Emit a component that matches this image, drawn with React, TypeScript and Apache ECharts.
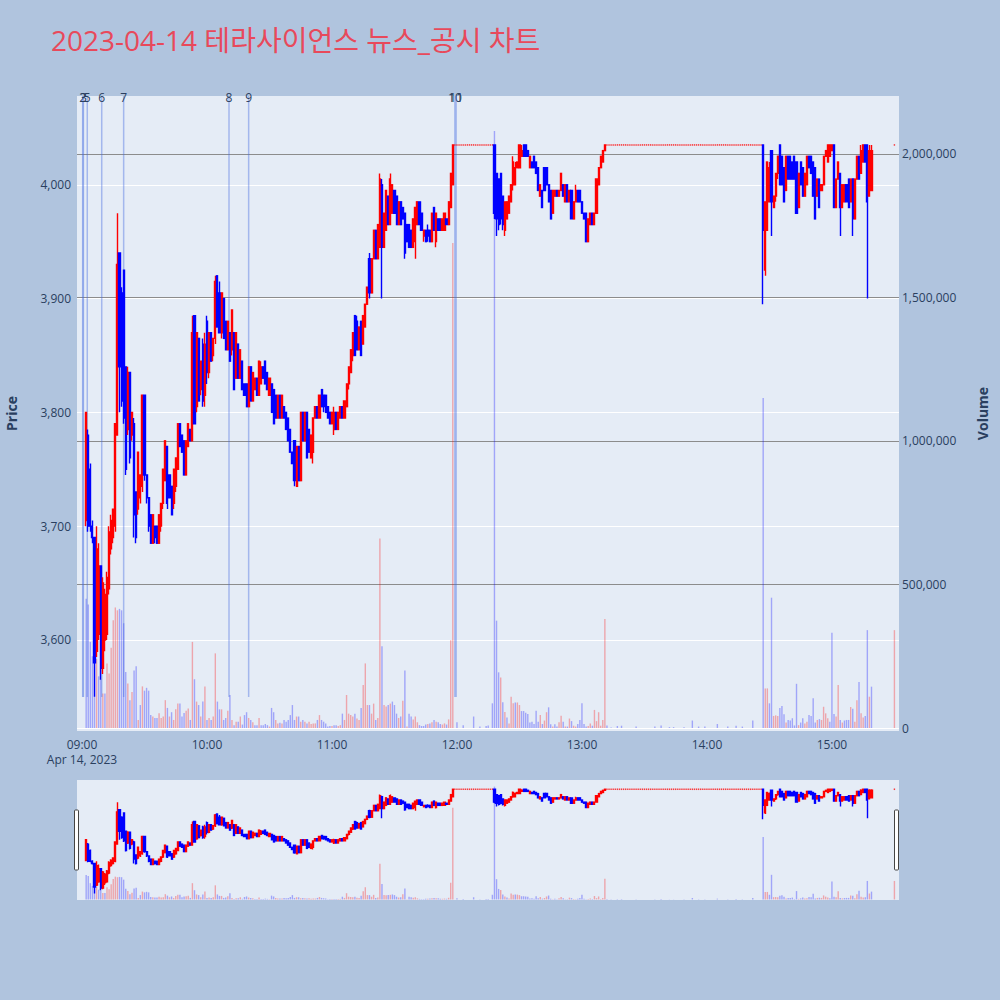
import React, { useEffect, useRef } from 'react';
import * as echarts from 'echarts';

// ---- Labels ----
const chartTitle = '2023-04-14 테라사이언스 뉴스_공시 차트';
const tradeDateLabel = 'Apr 14, 2023';
const timeTicks = ['09:00', '10:00', '11:00', '12:00', '13:00', '14:00', '15:00'];
const priceTicks = [3600, 3700, 3800, 3900, 4000];
const volumeTicks = [0, 500000, 1000000, 1500000, 2000000];

// ---- Minute bars, rows are [open, high, low, close] ----
const morningStart = '09:02';
const morningOhlc = [
  [3705,3800,3700,3800],[3780,3785,3695,3700],[3750,3755,3695,3700],[3700,3705,3685,3690],[3690,3690,3550,3580],[3590,3700,3585,3680],[3605,3685,3600,3665],[3665,3665,3565,3575],[3575,3655,3570,3650],[3600,3645,3590,3640],
  [3605,3660,3600,3655],[3645,3700,3640,3695],[3680,3710,3675,3705],[3690,3715,3685,3715],[3700,3790,3695,3790],[3780,3975,3780,3930],[3940,3940,3800,3840],[3905,3910,3805,3810],[3925,3925,3790,3795],[3840,3840,3745,3750],
  [3785,3840,3780,3835],[3835,3835,3755,3760],[3780,3800,3775,3800],[3790,3795,3690,3710],[3730,3730,3685,3690],[3715,3765,3710,3765],[3725,3745,3720,3745],[3735,3815,3730,3815],[3815,3815,3740,3745],[3745,3745,3720,3725],
  [3725,3725,3695,3700],[3710,3710,3685,3685],[3685,3710,3685,3710],[3700,3700,3685,3690],[3700,3700,3685,3685],[3685,3710,3685,3710],[3700,3720,3695,3720],[3720,3750,3715,3750],[3740,3775,3740,3775],[3770,3770,3715,3720],
  [3745,3745,3725,3725],[3735,3735,3710,3710],[3720,3750,3715,3750],[3735,3760,3730,3760],[3750,3790,3750,3790],[3790,3790,3770,3770],[3780,3780,3765,3765],[3775,3775,3745,3745],[3745,3775,3745,3775],[3770,3790,3770,3790],
  [3785,3785,3775,3775],[3775,3885,3775,3870],[3885,3885,3790,3790],[3805,3870,3800,3870],[3865,3865,3810,3810],[3820,3845,3815,3845],[3860,3865,3805,3810],[3815,3870,3805,3860],[3880,3885,3825,3835],[3835,3870,3830,3870],
  [3870,3870,3845,3845],[3850,3865,3845,3865],[3865,3920,3860,3915],[3920,3920,3875,3875],[3905,3915,3870,3870],[3870,3905,3865,3905],[3900,3900,3865,3865],[3880,3880,3855,3855],[3855,3880,3855,3880],[3870,3870,3845,3845],
  [3855,3890,3850,3890],[3870,3870,3820,3820],[3830,3870,3830,3870],[3860,3860,3830,3830],[3830,3855,3830,3855],[3845,3845,3820,3820],[3825,3825,3815,3815],[3825,3825,3805,3805],[3805,3840,3805,3840],[3840,3840,3810,3810],
  [3810,3835,3810,3835],[3820,3830,3820,3830],[3830,3830,3815,3815],[3815,3845,3815,3845],[3825,3845,3825,3840],[3840,3840,3830,3830],[3845,3845,3825,3825],[3835,3835,3820,3820],[3815,3830,3815,3830],[3825,3825,3800,3800],
  [3820,3820,3790,3790],[3815,3815,3795,3795],[3795,3815,3795,3815],[3815,3815,3795,3795],[3795,3815,3795,3815],[3805,3805,3795,3795],[3800,3800,3785,3785],[3795,3795,3775,3775],[3785,3785,3765,3765],[3765,3765,3755,3755],
  [3775,3775,3735,3740],[3735,3770,3735,3770],[3770,3770,3740,3740],[3740,3800,3740,3800],[3800,3800,3775,3775],[3775,3800,3775,3800],[3800,3800,3760,3760],[3785,3785,3765,3765],[3760,3780,3760,3780],[3765,3795,3755,3795],
  [3795,3805,3795,3805],[3805,3805,3795,3795],[3795,3815,3795,3815],[3820,3820,3805,3805],[3815,3815,3800,3805],[3815,3815,3800,3800],[3805,3805,3795,3795],[3800,3800,3790,3790],[3790,3800,3790,3800],[3785,3805,3780,3800],
  [3800,3800,3785,3785],[3785,3800,3785,3800],[3795,3805,3795,3805],[3805,3805,3795,3795],[3795,3810,3795,3810],[3805,3825,3805,3825],[3825,3840,3820,3840],[3835,3855,3835,3855],[3850,3870,3845,3870],[3885,3885,3850,3850],
  [3880,3885,3855,3855],[3855,3875,3855,3875],[3880,3880,3850,3850],[3860,3885,3860,3885],[3875,3895,3875,3895],[3895,3910,3895,3910],[3935,3940,3900,3905],[3905,3935,3905,3935],[3935,3960,3935,3960],[3960,3960,3935,3935],
  [3935,3965,3935,3965],[3945,4010,3945,4005],[4000,4005,3900,3945],[3945,3975,3945,3975],[3960,3995,3960,3995],[3990,3990,3965,3965],[3965,4010,3965,4005],[3975,4000,3975,4000],[3995,3995,3975,3975],[3990,3990,3965,3965],
  [3965,3985,3965,3985],[3985,3985,3965,3965],[3980,3980,3970,3970],[3975,3975,3935,3940],[3965,3965,3950,3950],[3965,3965,3945,3945],[3960,3960,3945,3945],[3945,3970,3945,3970],[3950,3980,3935,3980],[3965,3985,3965,3985],
  [3985,3985,3965,3965],[3975,3975,3960,3960],[3955,3960,3950,3960],[3960,3960,3950,3950],[3960,3965,3950,3955],[3960,3960,3950,3950],[3950,3975,3950,3975],[3980,3980,3960,3960],[3950,3975,3945,3975],[3970,3970,3960,3960],
  [3970,3970,3960,3960],[3960,3970,3960,3970],[3960,3975,3960,3975],[3970,3970,3965,3965],[3965,3985,3965,3985],[3980,4010,3980,4010],[4000,4035,4000,4035],
];
const morningVolume = [
  450000,430000,300000,250000,350000,240000,180000,170000,120000,120000,
  225000,190000,280000,375000,420000,410000,415000,410000,365000,195000,
  155000,97000,125000,200000,215000,28000,80000,145000,130000,140000,
  130000,45000,40000,35000,35000,51000,35000,40000,97000,70000,
  40000,55000,28000,65000,85000,85000,40000,52000,60000,68000,
  28000,300000,170000,92000,80000,40000,92000,145000,28000,35000,
  28000,40000,260000,92000,65000,65000,28000,35000,60000,115000,
  28000,10000,22000,22000,40000,12000,45000,55000,35000,28000,
  20000,10000,10000,35000,10000,10000,14000,10000,5000,70000,
  55000,28000,16000,18000,16000,28000,22000,28000,45000,80000,
  28000,40000,40000,22000,28000,22000,16000,22000,14000,16000,
  16000,28000,45000,28000,22000,16000,5000,7000,7000,10000,
  10000,7000,10000,50000,28000,115000,50000,45000,40000,50000,
  33000,28000,70000,150000,225000,80000,80000,50000,85000,28000,
  35000,660000,285000,80000,75000,80000,85000,92000,80000,50000,
  35000,40000,95000,200000,5000,50000,40000,30000,40000,20000,
  10000,7000,7000,12000,14000,16000,20000,28000,22000,20000,
  14000,12000,16000,12000,30000,306000,1690000,
];

// price held at 4,035 from 11:59 to 12:17
const noonFlatStart = '11:59';
const noonFlatPrice = 4035;
const noonFlatVolume = [0,20000,0,0,10000,0,0,0,0,40000,0,0,5000,0,0,7000,9000,0,86000];

const afternoonStart = '12:18';
const afternoonOhlc = [
  [4035,4035,3970,3975],[4010,4010,3955,3970],[4005,4005,3960,3965],[4010,4010,3965,3970],[3990,3990,3960,3965],[3960,3985,3955,3985],[3970,3985,3970,3985],[3975,3990,3975,3990],[3985,4000,3985,4000],[4000,4025,3995,4020],
  [4000,4020,4000,4015],[4015,4020,4015,4020],[4015,4035,4015,4035],[4025,4035,4025,4030],[4035,4035,4025,4025],[4035,4035,4025,4025],[4030,4030,4025,4025],[4015,4025,4015,4025],[4020,4020,4015,4015],[4025,4025,4015,4015],
  [4020,4020,4010,4010],[4015,4015,3995,3995],[3990,4000,3990,4000],[3995,3995,3980,3980],[4015,4015,3995,3995],[4015,4015,4000,4000],[4000,4000,3985,3985],[3995,3995,3970,3970],[3975,3995,3975,3995],[3990,3995,3990,3995],
  [3995,3995,3990,3990],[3990,3995,3990,3995],[3995,4010,3995,4010],[4000,4000,3990,3990],[3985,4000,3985,4000],[4000,4000,3985,3985],[3985,3995,3985,3995],[3995,3995,3970,3970],[3970,3985,3970,3985],[3985,4000,3985,3995],
  [3995,3995,3985,3985],[3995,3995,3985,3985],[3985,3985,3975,3975],[3975,3975,3970,3970],[3975,3975,3950,3950],[3950,3970,3950,3970],[3965,3975,3965,3975],[3975,3975,3965,3965],[3965,3975,3965,3975],[3975,4005,3975,4005],
  [4000,4015,4000,4015],[4015,4025,4015,4025],[4020,4030,4020,4030],[4030,4035,4030,4035],
];
const afternoonVolume = [
  2080000,374000,194000,176000,90000,56000,37000,16000,109000,86000,
  89000,89000,80000,59000,59000,53000,49000,19000,22000,14000,
  60000,22000,45000,14000,26000,55000,72000,13000,5000,13000,
  5000,20000,43000,22000,5000,5000,33000,24000,8000,5000,
  14000,28000,86000,14000,5000,7000,16000,8000,63000,24000,
  55000,8000,28000,380000,
];

// price held at 4,035 from 13:12 to 14:26
const lateFlatStart = '13:12';
const lateFlatPrice = 4035;
const lateFlatVolume = [
  9000,0,2000,0,0,7000,0,8000,0,0,
  0,0,0,0,5000,0,0,0,0,0,
  0,0,0,5000,0,0,9000,0,0,0,
  3000,0,3000,0,0,0,0,3000,0,0,
  0,26000,0,0,5000,0,0,5000,0,0,
  0,0,0,14000,0,0,0,0,5000,0,
  0,0,8000,0,0,5000,0,0,0,0,
  26000,0,0,0,0,
];

const closingStart = '14:27';
const closingOhlc = [
  [4035,4035,3895,3960],[3925,3985,3920,3985],[3960,4020,3960,4020],[3985,4020,3985,4015],[4030,4030,3955,3985],[3980,3990,3980,3990],[3990,4010,3985,4010],[4010,4025,4005,4025],[4035,4035,4000,4000],[4025,4025,4000,4000],
  [4015,4015,3985,3985],[3995,4025,3995,4025],[4025,4025,4005,4005],[4025,4025,4005,4005],[4020,4020,4005,4005],[4025,4025,4005,4005],[4020,4020,3975,3975],[3980,4010,3980,4010],[4020,4020,4000,4000],[4015,4015,3990,3990],
  [3990,4010,3990,4010],[4000,4025,4000,4025],[4025,4025,4015,4015],[4025,4025,4010,4010],[4020,4020,3990,3990],[4015,4015,3970,3970],[3990,4005,3990,4005],[4005,4005,3980,3980],[3995,4000,3995,4000],[4000,4025,4000,4025],
  [4025,4030,4025,4030],[4020,4035,4020,4035],[4025,4035,4025,4035],[4030,4035,4030,4035],[4035,4035,3980,3980],[3980,4005,3980,4005],[4005,4020,4005,4020],[4010,4010,3955,3980],[3980,4000,3980,4000],[3985,4000,3985,4000],
  [4000,4000,3985,3985],[4005,4005,3980,3980],[3985,4005,3985,4005],[4005,4005,3955,3970],[3970,4005,3970,4005],[4005,4025,4005,4025],[4025,4025,4005,4005],[4010,4035,4010,4030],[4020,4035,4020,4035],[4035,4035,4020,4020],
  [4035,4035,3900,3985],[3990,4035,3990,4030],[3995,4035,3995,4030],
];
const closingVolume = [
  1150000,138000,138000,86000,454000,42000,44000,42000,70000,77000,
  48000,19000,28000,26000,34000,9000,154000,10000,19000,34000,
  16000,22000,45000,42000,104000,19000,28000,31000,28000,74000,
  51000,34000,22000,332000,49000,40000,150000,28000,19000,26000,
  28000,28000,73000,67000,22000,97000,160000,51000,37000,42000,
  341000,109000,144000,
];

// closing single-price auction
const auctionTime = '15:30';
const auctionOhlc = [4035, 4035, 4035, 4035];
const auctionVolume = 341000;

// ---- News / disclosure markers ----
const newsNumbers = [2, 3, 5, 6, 7, 8, 9, 10, 11];
const newsTimes = ['09:00:20', '09:00:40', '09:02:32', '09:09:28', '09:20:00', '10:10:34', '10:20:00', '11:59:00', '11:59:36'];

// ---- helpers ----
const DAY_OPEN = 9 * 60;
function toMinutes(hhmm: string): number {
  const [h, m, s] = hhmm.split(':').map(Number);
  return h * 60 + m + (s || 0) / 60 - DAY_OPEN;
}
function minutesLabel(v: number): string {
  const t = Math.round(v) + DAY_OPEN;
  return String(Math.floor(t / 60)).padStart(2, '0') + ':' + String(t % 60).padStart(2, '0');
}
const fmt = (v: number) => Math.round(v).toLocaleString('en-US');

type Bar = { t: number; o: number; h: number; l: number; c: number; v: number };
function collectBars(): Bar[] {
  const bars: Bar[] = [];
  const run = (start: string, rows: number[][], vols: number[]) => {
    const t0 = toMinutes(start);
    rows.forEach((r, i) => bars.push({ t: t0 + i, o: r[0], h: r[1], l: r[2], c: r[3], v: vols[i] || 0 }));
  };
  const flat = (start: string, price: number, vols: number[]) => {
    const t0 = toMinutes(start);
    vols.forEach((v, i) => bars.push({ t: t0 + i, o: price, h: price, l: price, c: price, v }));
  };
  run(morningStart, morningOhlc, morningVolume);
  flat(noonFlatStart, noonFlatPrice, noonFlatVolume);
  run(afternoonStart, afternoonOhlc, afternoonVolume);
  flat(lateFlatStart, lateFlatPrice, lateFlatVolume);
  run(closingStart, closingOhlc, closingVolume);
  run(auctionTime, [auctionOhlc], [auctionVolume]);
  return bars;
}

const UP = '#ff0000';
const DOWN = '#0000ff';
const X_MIN = -2.4;
const X_MAX = 392.2;
const PRICE_MIN = 3520;
const PRICE_MAX = 4078;
const VOL_MIN = -10450;
const VOL_MAX = 2202000;
const FONT = '"Open Sans", "Noto Sans CJK KR", sans-serif';
const INK = '#2a3f5f';

function buildOption() {
  const bars = collectBars();
  const moving = bars.filter((b) => b.h > b.l);
  const still = bars.filter((b) => b.h === b.l);
  const volumeData = bars
    .map((b, i) => ({ b, up: i > 0 && b.c > bars[i - 1].c }))
    .filter(({ b }) => b.v > 0)
    .map(({ b, up }) => ({ value: [b.t, b.v], itemStyle: { color: up ? UP : DOWN } }));

  const candleStyle = {
    color: UP, color0: DOWN, borderColor: UP, borderColor0: DOWN, borderColorDoji: UP, borderWidth: 1.4,
  };

  const priceSeries = (xi: number, yi: number) => [
    {
      type: 'candlestick', xAxisIndex: xi, yAxisIndex: yi, barWidth: 1.6, z: 4,
      encode: { x: 0, y: [1, 2, 3, 4] },
      data: moving.map((b) => [b.t, b.o, b.c, b.l, b.h]),
      itemStyle: candleStyle,
    },
    {
      // minutes with no price change: a short flat tick at the traded price
      type: 'scatter', xAxisIndex: xi, yAxisIndex: yi, z: 3, silent: true,
      symbol: 'rect', symbolSize: [1.4, 1.6],
      data: still.map((b) => [b.t, b.c]),
      itemStyle: { color: UP, opacity: 0.75 },
    },
  ];
  const volumeSeries = (xi: number, yi: number) => ({
    type: 'bar', xAxisIndex: xi, yAxisIndex: yi, barWidth: 1.4, z: 1,
    data: volumeData, itemStyle: { opacity: 0.3 },
  });

  const timeTickValues = timeTicks.map(toMinutes);

  return {
    animation: false,
    backgroundColor: '#B0C4DE',
    textStyle: { fontFamily: FONT },
    title: {
      text: chartTitle, left: 46, top: 21,
      textStyle: { color: '#E8495B', fontSize: 28, fontWeight: 'normal', fontFamily: FONT },
    },
    grid: [
      { left: 77, top: 96, width: 822, height: 635, show: true, backgroundColor: '#E5ECF6', borderWidth: 0, outerBoundsMode: 'none', containLabel: false },
      { left: 77, top: 780, width: 822, height: 120, show: true, backgroundColor: '#E5ECF6', borderWidth: 0, outerBoundsMode: 'none', containLabel: false },
    ],
    xAxis: [
      {
        type: 'value', gridIndex: 0, min: X_MIN, max: X_MAX,
        axisLine: { show: false },
        axisTick: { show: false, customValues: timeTickValues },
        splitLine: { show: false },
        axisLabel: {
          customValues: timeTickValues, color: INK, fontSize: 12, margin: 6, lineHeight: 15,
          fontFamily: FONT, hideOverlap: false,
          formatter: (v: number) => (Math.abs(v) < 0.01 ? minutesLabel(v) + '\n' + tradeDateLabel : minutesLabel(v)),
        },
      },
      { type: 'value', gridIndex: 1, min: X_MIN, max: X_MAX, show: false },
    ],
    yAxis: [
      {
        type: 'value', gridIndex: 0, position: 'left', min: PRICE_MIN, max: PRICE_MAX,
        name: 'Price', nameLocation: 'middle', nameGap: 59,
        nameTextStyle: { color: INK, fontSize: 14, fontWeight: 'bold', fontFamily: FONT },
        axisLine: { show: false },
        axisTick: { show: false, customValues: priceTicks },
        axisLabel: { customValues: priceTicks, formatter: fmt, color: INK, fontSize: 12, margin: 6, fontFamily: FONT },
        splitLine: { show: true, lineStyle: { color: '#ffffff', width: 1 } },
      },
      {
        type: 'value', gridIndex: 0, position: 'right', min: VOL_MIN, max: VOL_MAX,
        name: 'Volume', nameLocation: 'middle', nameGap: 76,
        nameTextStyle: { color: INK, fontSize: 14, fontWeight: 'bold', fontFamily: FONT },
        axisLine: { show: false },
        axisTick: { show: false, customValues: volumeTicks },
        axisLabel: { customValues: volumeTicks, formatter: fmt, color: INK, fontSize: 12, margin: 3, fontFamily: FONT },
        splitLine: { show: true, lineStyle: { color: ['#ffffff', '#8c8c8c', '#8c8c8c', '#8c8c8c', '#8c8c8c'], width: 1 } },
      },
      { type: 'value', gridIndex: 1, min: PRICE_MIN, max: PRICE_MAX, show: false },
      { type: 'value', gridIndex: 1, min: VOL_MIN, max: VOL_MAX, show: false },
    ],
    graphic: [
      { type: 'rect', shape: { x: 74.5, y: 810, width: 4, height: 60, r: 1 }, style: { fill: '#ffffff', stroke: '#444444', lineWidth: 1 }, z: 100 },
      { type: 'rect', shape: { x: 894.5, y: 810, width: 4, height: 60, r: 1 }, style: { fill: '#ffffff', stroke: '#444444', lineWidth: 1 }, z: 100 },
    ],
    series: [
      volumeSeries(0, 1),
      {
        type: 'custom', xAxisIndex: 0, yAxisIndex: 0, z: 2, clip: false,
        data: newsTimes.map((t, i) => [toMinutes(t), newsNumbers[i]]),
        renderItem: (params: any, api: any) => {
          const x = api.coord([api.value(0), 3800])[0];
          const cs = params.coordSys;
          return {
            type: 'group',
            children: [
              {
                type: 'line',
                shape: { x1: x, y1: cs.y, x2: x, y2: cs.y + cs.height * 0.9465 },
                style: { stroke: 'rgba(65,105,225,0.4)', lineWidth: 1.5 },
              },
              {
                type: 'text', x, y: cs.y + 1,
                style: { text: String(api.value(1)), align: 'center', verticalAlign: 'middle', fill: INK, fontSize: 12, fontFamily: FONT },
              },
            ],
          };
        },
      },
      ...priceSeries(0, 0),
      volumeSeries(1, 3),
      ...priceSeries(1, 2),
    ],
  };
}

export default function App() {
  const ref = useRef<HTMLDivElement>(null);
  useEffect(() => {
    if (!ref.current) return;
    const chart = echarts.init(ref.current, undefined, { renderer: 'svg' });
    chart.setOption(buildOption() as any);
    return () => chart.dispose();
  }, []);
  return <div ref={ref} style={{ position: 'fixed', left: 0, top: 0, width: 1000, height: 1000 }} />;
}
